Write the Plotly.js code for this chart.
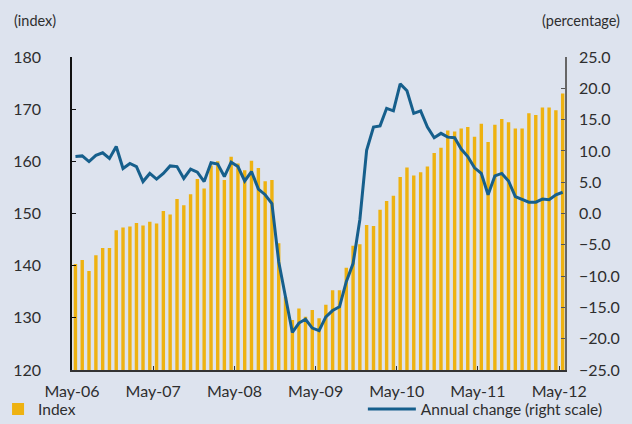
<!DOCTYPE html>
<html>
<head>
<meta charset="utf-8">
<script src="https://cdn.plot.ly/plotly-3.0.1.min.js"></script>
<style>
  html, body { margin: 0; padding: 0; background: #dde3ee; }
  #chart { width: 632px; height: 424px; }
</style>
</head>
<body>
<div id="chart"></div>
<script>
/***** data *****/
var firstMonth = '2006-05';
var monthCount = 73;

var indexValues = [
  140.3, 141.1, 139.0, 142.0, 143.4, 143.4, 146.8, 147.3, 147.5, 148.2, 147.7, 148.4,
  148.1, 150.5, 149.8, 152.8, 151.6, 153.7, 156.6, 154.8, 159.2, 160.0, 156.4, 160.9,
  159.6, 158.3, 160.1, 158.7, 156.2, 156.4, 144.3, 134.0, 129.6, 131.8, 130.2, 131.5,
  129.9, 132.5, 135.3, 135.3, 139.6, 143.8, 144.1, 147.8, 147.6, 150.7, 152.4, 153.4,
  157.0, 158.8, 157.3, 157.9, 159.0, 161.6, 162.6, 165.9, 165.7, 166.3, 166.6, 164.7,
  167.2, 163.7, 167.0, 168.1, 167.5, 166.3, 166.3, 169.2, 168.9, 170.3, 170.3, 169.8,
  173.0
];

var annualChange = [
  9.1, 9.2, 8.3, 9.3, 9.7, 8.8, 10.7, 7.2, 8.0, 7.5, 5.1, 6.4,
  5.5, 6.4, 7.6, 7.5, 5.6, 7.1, 6.6, 5.1, 8.1, 7.9, 5.9, 8.2,
  7.5, 5.2, 6.7, 3.9, 3.0, 1.6, -7.7, -13.3, -19.0, -17.5, -16.9, -18.3,
  -18.7, -16.5, -15.5, -14.9, -10.9, -8.0, -1.0, 10.1, 13.8, 14.0, 16.8, 16.4,
  20.7, 19.6, 16.0, 16.4, 13.8, 12.1, 12.8, 12.2, 12.1, 10.3, 9.1, 7.3,
  6.4, 3.0, 6.0, 6.4, 5.2, 2.7, 2.2, 1.8, 1.8, 2.3, 2.2, 3.0,
  3.4
];

var tickDates = ['2006-05-01', '2007-05-01', '2008-05-01', '2009-05-01',
                 '2010-05-01', '2011-05-01', '2012-05-01'];
var tickLabels = ['May-06', 'May-07', 'May-08', 'May-09', 'May-10', 'May-11', 'May-12'];

// month start dates
var months = [];
var y0 = +firstMonth.slice(0, 4), m0 = +firstMonth.slice(5, 7) - 1;
for (var i = 0; i < monthCount; i++) {
  var yy = y0 + Math.floor((m0 + i) / 12);
  var mm = (m0 + i) % 12 + 1;
  months.push(yy + '-' + (mm < 10 ? '0' + mm : mm) + '-01');
}

/***** style *****/
var bg = '#dde3ee';
var gold = '#eeb211';
var blue = '#165f8c';
var textColor = '#2e2e2e';
var fontFamily = 'Lato, "Open Sans", sans-serif';

var index = {
  x: months,
  y: indexValues,
  type: 'bar',
  name: 'Index',
  xperiod: 'M1',
  xperiodalignment: 'middle',
  marker: { color: gold, line: { width: 0 } },
  legend: 'legend',
  hoverinfo: 'x+y'
};

var change = {
  x: months,
  y: annualChange,
  type: 'scatter',
  mode: 'lines',
  name: 'Annual change (right scale)',
  xperiod: 'M1',
  xperiodalignment: 'middle',
  yaxis: 'y2',
  line: { color: blue, width: 3 },
  legend: 'legend2'
};

var layout = {
  width: 632,
  height: 424,
  paper_bgcolor: bg,
  plot_bgcolor: bg,
  font: { family: fontFamily, size: 14, color: textColor },
  margin: { l: 72, r: 67, t: 57, b: 54, autoexpand: false },
  bargap: 0.48,
  showlegend: true,
  xaxis: {
    type: 'date',
    range: ['2006-05-01', '2012-05-27'],
    tickvals: tickDates,
    ticktext: tickLabels,
    ticks: 'inside',
    ticklen: 4,
    tickcolor: '#333',
    showline: true,
    linecolor: '#333',
    linewidth: 1.5,
    showgrid: false,
    zeroline: false,
    ticklabelstandoff: 6,
    tickfont: { size: 16, color: textColor }
  },
  yaxis: {
    range: [120, 180],
    tickvals: [120, 130, 140, 150, 160, 170, 180],
    ticks: 'inside',
    ticklen: 4,
    tickcolor: '#111',
    showline: true,
    linecolor: '#111',
    linewidth: 1.5,
    showgrid: false,
    zeroline: false,
    ticklabelstandoff: 26,
    tickfont: { size: 16, color: textColor }
  },
  yaxis2: {
    overlaying: 'y',
    side: 'right',
    range: [-25, 25],
    tickvals: [-25, -20, -15, -10, -5, 0, 5, 10, 15, 20, 25],
    tickformat: '.1f',
    ticks: 'inside',
    ticklen: 4,
    tickcolor: '#555',
    showline: true,
    linecolor: '#666',
    linewidth: 1.5,
    showgrid: false,
    zeroline: false,
    ticklabelstandoff: 9,
    tickfont: { size: 16, color: textColor }
  },
  legend: {
    orientation: 'h',
    x: -0.15,
    y: -0.072,
    xanchor: 'left',
    yanchor: 'top',
    bgcolor: 'rgba(0,0,0,0)',
    font: { size: 15.5, color: textColor },
    itemwidth: 30
  },
  legend2: {
    orientation: 'h',
    x: 0.59,
    y: -0.072,
    xanchor: 'left',
    yanchor: 'top',
    bgcolor: 'rgba(0,0,0,0)',
    font: { size: 15.5, color: textColor },
    itemwidth: 48
  },
  annotations: [
    {
      text: '(index)',
      xref: 'paper', yref: 'paper',
      x: -0.122, y: 1.118,
      xanchor: 'left', yanchor: 'middle',
      showarrow: false,
      font: { size: 14.5, color: textColor }
    },
    {
      text: '(percentage)',
      xref: 'paper', yref: 'paper',
      x: 1.116, y: 1.118,
      xanchor: 'right', yanchor: 'middle',
      showarrow: false,
      font: { size: 14.5, color: textColor }
    }
  ]
};

var config = { displayModeBar: false, responsive: false };

var data = [index, change];
Plotly.newPlot('chart', data, layout, config);
</script>
</body>
</html>
